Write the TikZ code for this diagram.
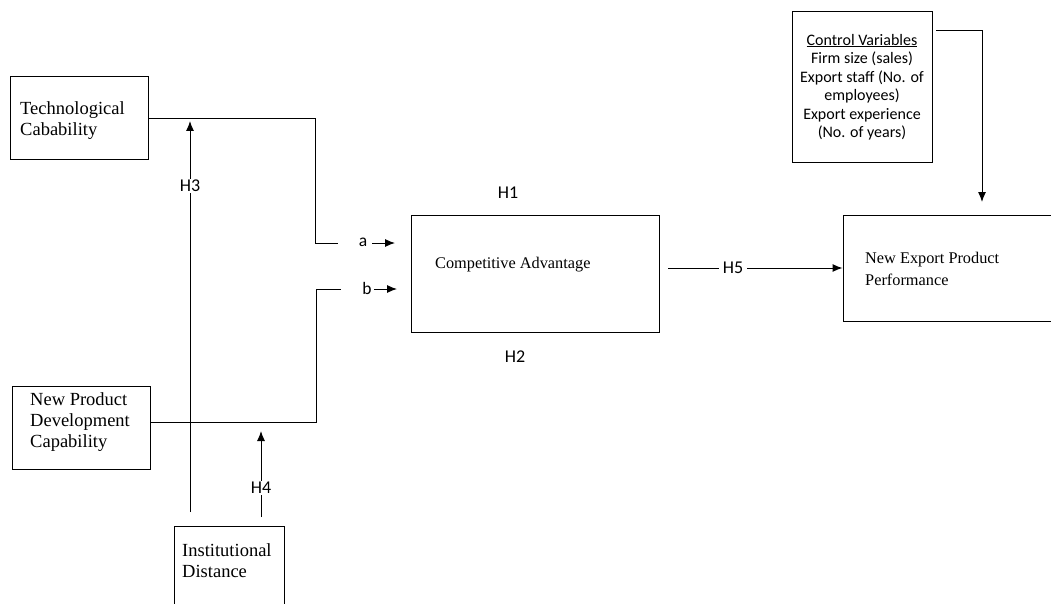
\documentclass[tikz,border=0pt]{standalone}
\usepackage{fontspec}
\setmainfont{Liberation Serif}
\newfontfamily\calfont{Carlito}
\usetikzlibrary{arrows.meta}
\tikzset{
  box/.style={draw, line width=1pt, inner sep=0pt, fill=none},
  bigtxt/.style={inner sep=0pt, align=left, anchor=north west, font={\fontsize{18.5}{21}\selectfont}},
  midtxt/.style={inner sep=0pt, align=left, anchor=north west, font={\fontsize{16.3}{22.5}\selectfont}},
  hlab/.style={inner sep=1.5pt, fill=white, font={\calfont\fontsize{18}{20}\selectfont}},
  ctltxt/.style={inner sep=0pt, align=center, anchor=north, font={\calfont\fontsize{16}{18.5}\selectfont}},
  conn/.style={line width=1pt},
  arr/.style={line width=1pt, -{Latex[length=10pt,width=8pt]}},
}
\begin{document}
\begin{tikzpicture}[x=1pt,y=-1pt]
\clip (0,0) rectangle (1051,604);
\fill[white] (0,0) rectangle (1051,604);

% boxes
\node[box, minimum width=138pt, minimum height=83pt] (tech) at (79,118.5) {};
\node[box, minimum width=138pt, minimum height=83pt] (npd) at (81,427.5) {};
\node[box, minimum width=110pt, minimum height=90pt] (inst) at (229,571) {};
\node[box, minimum width=248pt, minimum height=117pt] (ca) at (535,273.5) {};
\node[box, minimum width=220pt, minimum height=106pt] (nepp) at (953,268) {};
\node[box, minimum width=140pt, minimum height=151pt] (ctl) at (862,87.5) {};

% box texts
\node[bigtxt] (techtxt) at (20,101.4) {Technological\\Cabability};
\node[bigtxt] (npdtxt) at (30,392.4) {New Product\\Development\\Capability};
\node[bigtxt] (insttxt) at (182,543.4) {Institutional\\Distance};
\node[midtxt] (catxt) at (435,256.9) {Competitive Advantage};
\node[midtxt] (nepptxt) at (865,251.9) {New Export Product\\Performance};
\node[ctltxt] (ctltxt) at (862,33.8) {\underline{Control Variables}\\Firm size (sales)\\Export staff (No. of\\employees)\\Export experience\\(No. of years)};

% hypothesis labels
\node[hlab] (h1) at (508,193) {H1};
\node[hlab] (h2) at (515,357) {H2};

% coordinates
\coordinate (aj) at (315,243);
\coordinate (aend) at (338,243);
\coordinate (bj) at (316,422);
\coordinate (btop) at (316,289);
\coordinate (bend) at (341,289);
\coordinate (a1) at (372,243);
\coordinate (a2) at (395,243);
\coordinate (b1) at (374,289);
\coordinate (b2) at (397,289);
\coordinate (h3s) at (190,512);
\coordinate (h3e) at (190,121);
\coordinate (h4s) at (261,517);
\coordinate (h4e) at (261,431);
\coordinate (h5s) at (668,268);
\coordinate (c1) at (936,31);
\coordinate (c2) at (982,31);
\coordinate (cend) at (982,202);

% a and b paths
\draw[conn] (tech.east) -| (aj) -- (aend);
\node[font={\calfont\fontsize{17.5}{20}\selectfont}, inner sep=0pt] (alab) at (363,242) {a};
\draw[arr] (a1) -- (a2);
\draw[conn] (npd.east |- bj) -- (bj) -- (btop) -- (bend);
\node[font={\calfont\fontsize{17.5}{20}\selectfont}, inner sep=0pt] (blab) at (367,288) {b};
\draw[arr] (b1) -- (b2);

% H3 and H4 moderators
\draw[arr] (h3s) -- (h3e);
\node[hlab] (h3) at (190,186) {H3};
\draw[arr] (h4s) -- (h4e);
\node[hlab] (h4) at (261,488) {H4};

% H5
\draw[arr] (h5s) -- (nepp.west |- h5s);
\node[hlab, inner xsep=4pt] (h5) at (733,268) {H5};

% control variables
\draw[arr] (c1) -- (c2) -- (cend);
\end{tikzpicture}
\end{document}
